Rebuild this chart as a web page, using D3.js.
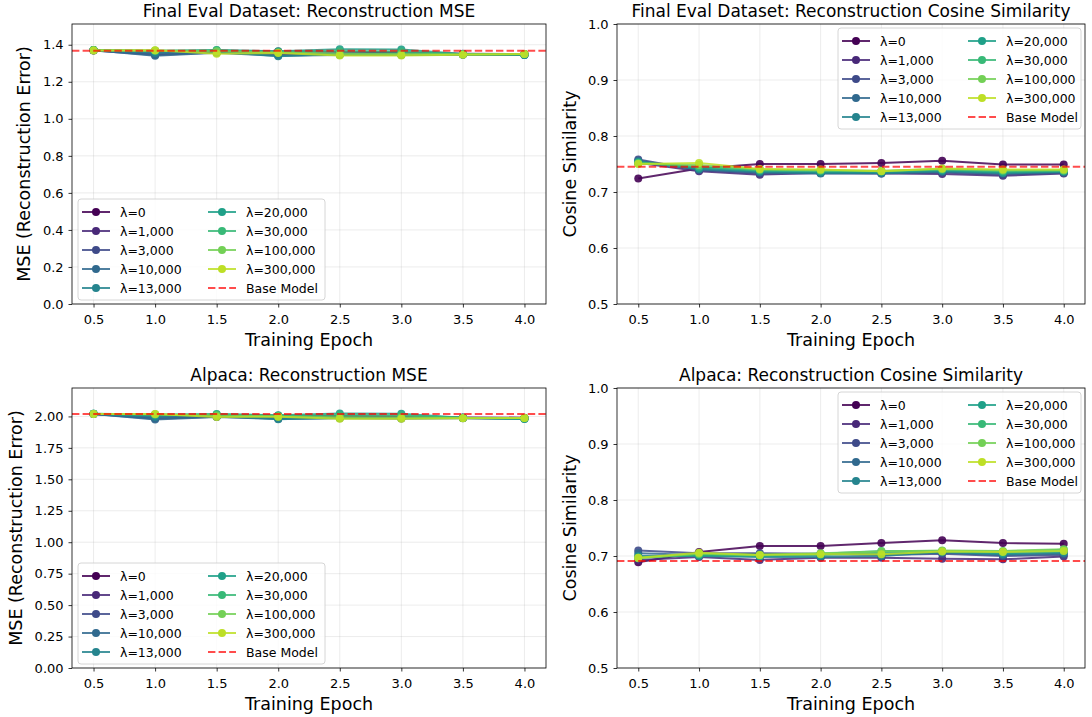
<!DOCTYPE html>
<html><head><meta charset="utf-8">
<script src="https://cdn.jsdelivr.net/npm/d3@7"></script>
<style>body{margin:0;background:#fff}svg{font-family:"DejaVu Sans",sans-serif}</style>
</head><body><svg id="c" width="1092" height="717"></svg>
<script>
const epochs = [0.5,1.0,1.5,2.0,2.5,3.0,3.5,4.0];
const lambdaLabels = ["λ=0","λ=1,000","λ=3,000","λ=10,000","λ=13,000","λ=20,000","λ=30,000","λ=100,000","λ=300,000"];

const finalMse = [
 [1.370,1.362,1.365,1.363,1.362,1.360,1.352,1.350],
 [1.370,1.350,1.360,1.350,1.352,1.350,1.348,1.347],
 [1.369,1.345,1.358,1.345,1.348,1.346,1.347,1.346],
 [1.370,1.340,1.357,1.340,1.345,1.344,1.346,1.345],
 [1.371,1.355,1.362,1.338,1.350,1.348,1.347,1.344],
 [1.372,1.365,1.372,1.365,1.375,1.374,1.350,1.346],
 [1.371,1.368,1.370,1.360,1.365,1.362,1.349,1.348],
 [1.370,1.369,1.365,1.358,1.352,1.350,1.348,1.350],
 [1.369,1.370,1.352,1.355,1.342,1.342,1.346,1.350]];
const finalMseBase = 1.368;

const finalCos = [
 [0.724,0.742,0.750,0.750,0.752,0.756,0.749,0.749],
 [0.752,0.737,0.731,0.734,0.733,0.732,0.729,0.733],
 [0.758,0.739,0.733,0.734,0.734,0.735,0.731,0.734],
 [0.756,0.740,0.735,0.733,0.733,0.736,0.733,0.735],
 [0.754,0.741,0.736,0.734,0.734,0.737,0.734,0.736],
 [0.753,0.743,0.738,0.736,0.736,0.739,0.735,0.737],
 [0.752,0.745,0.739,0.738,0.737,0.740,0.737,0.738],
 [0.751,0.748,0.740,0.739,0.738,0.741,0.739,0.739],
 [0.750,0.752,0.741,0.740,0.737,0.742,0.740,0.740]];
const finalCosBase = 0.745;

const alpacaMse = [
 [2.020,2.005,2.010,2.005,2.003,2.000,1.992,1.990],
 [2.020,1.990,2.000,1.990,1.992,1.990,1.988,1.986],
 [2.019,1.982,1.998,1.985,1.988,1.986,1.987,1.985],
 [2.020,1.975,1.996,1.980,1.985,1.984,1.986,1.983],
 [2.021,1.995,2.005,1.978,1.990,1.988,1.987,1.980],
 [2.022,2.010,2.020,2.010,2.024,2.022,1.990,1.982],
 [2.021,2.015,2.016,2.005,2.010,2.008,1.989,1.985],
 [2.020,2.018,2.008,2.000,1.994,1.992,1.988,1.988],
 [2.019,2.020,1.995,1.998,1.982,1.982,1.985,1.988]];
const alpacaMseBase = 2.019;

const alpacaCos = [
 [0.689,0.707,0.718,0.718,0.723,0.728,0.723,0.722],
 [0.693,0.698,0.693,0.697,0.697,0.695,0.694,0.699],
 [0.710,0.705,0.705,0.704,0.702,0.704,0.700,0.702],
 [0.705,0.702,0.703,0.703,0.703,0.706,0.702,0.704],
 [0.700,0.700,0.698,0.698,0.700,0.707,0.703,0.706],
 [0.698,0.701,0.700,0.702,0.706,0.708,0.705,0.708],
 [0.697,0.703,0.701,0.704,0.709,0.709,0.708,0.711],
 [0.696,0.704,0.702,0.705,0.708,0.710,0.709,0.712],
 [0.697,0.706,0.702,0.703,0.703,0.708,0.707,0.709]];
const alpacaCosBase = 0.691;

const xTicks = [0.5,1.0,1.5,2.0,2.5,3.0,3.5,4.0];
const mseTicksTop = [0.0,0.2,0.4,0.6,0.8,1.0,1.2,1.4];
const mseTicksBot = [0.00,0.25,0.50,0.75,1.00,1.25,1.50,1.75,2.00];
const cosTicks = [0.5,0.6,0.7,0.8,0.9,1.0];

const colors = lambdaLabels.map((d,i)=>d3.interpolateViridis(i*0.9/8));
const svg = d3.select("#c");

function panel(o){
  const g = svg.append("g");
  const x = d3.scaleLinear().domain([0.325,4.175]).range([o.x0,o.x1]);
  const y = d3.scaleLinear().domain(o.ydom).range([o.y1,o.y0]);
  g.append("g").selectAll("line").data(xTicks).join("line")
    .attr("x1",d=>x(d)).attr("x2",d=>x(d)).attr("y1",o.y0).attr("y2",o.y1)
    .attr("stroke","#b0b0b0").attr("stroke-opacity",0.3).attr("stroke-width",0.8);
  g.append("g").selectAll("line").data(o.yticks).join("line")
    .attr("y1",d=>y(d)).attr("y2",d=>y(d)).attr("x1",o.x0).attr("x2",o.x1)
    .attr("stroke","#b0b0b0").attr("stroke-opacity",0.3).attr("stroke-width",0.8);
  const xa = g.append("g").attr("transform",`translate(0,${o.y1})`)
    .call(d3.axisBottom(x).tickValues(xTicks).tickFormat(d3.format(".1f")).tickSize(3.5).tickSizeOuter(0));
  const ya = g.append("g").attr("transform",`translate(${o.x0},0)`)
    .call(d3.axisLeft(y).tickValues(o.yticks).tickFormat(d3.format(o.yfmt)).tickSize(3.5).tickSizeOuter(0));
  [xa,ya].forEach(a=>{a.select(".domain").remove();
    a.selectAll("text").attr("font-size",13).attr("fill","#000").attr("font-family","DejaVu Sans");
    a.selectAll("line").attr("stroke","#000").attr("stroke-width",0.8);});
  xa.selectAll("text").attr("dy","1.05em");
  ya.selectAll("text").attr("dx","-0.15em");
  const clip = "clip"+o.id;
  svg.append("clipPath").attr("id",clip).append("rect").attr("x",o.x0).attr("y",o.y0).attr("width",o.x1-o.x0).attr("height",o.y1-o.y0);
  const pg = g.append("g").attr("clip-path",`url(#${clip})`);
  const line = d3.line().x((d,i)=>x(epochs[i])).y(d=>y(d));
  o.data.forEach((s,k)=>{
    pg.append("path").attr("d",line(s)).attr("fill","none").attr("stroke",colors[k]).attr("stroke-width",2).attr("stroke-opacity",0.85);
    pg.append("g").selectAll("circle").data(s).join("circle")
      .attr("cx",(d,i)=>x(epochs[i])).attr("cy",d=>y(d)).attr("r",4).attr("fill",colors[k]).attr("fill-opacity",0.9);
  });
  pg.append("line").attr("x1",o.x0).attr("x2",o.x1).attr("y1",y(o.base)).attr("y2",y(o.base))
    .attr("stroke","#ff0000").attr("stroke-opacity",0.7).attr("stroke-width",2).attr("stroke-dasharray","7.4,3.2");
  g.append("rect").attr("x",o.x0).attr("y",o.y0).attr("width",o.x1-o.x0).attr("height",o.y1-o.y0)
    .attr("fill","none").attr("stroke","#000").attr("stroke-width",0.8);
  g.append("text").attr("x",(o.x0+o.x1)/2).attr("y",o.y0-7).attr("text-anchor","middle").attr("font-size",17).text(o.title);
  g.append("text").attr("x",(o.x0+o.x1)/2).attr("y",o.y1+42).attr("text-anchor","middle").attr("font-size",17.5).text("Training Epoch");
  g.append("text").attr("transform",`translate(${o.ylx},${(o.y0+o.y1)/2}) rotate(-90)`).attr("text-anchor","middle").attr("font-size",17.5).text(o.ylabel);
  const L = g.append("g").attr("transform",`translate(${o.lx},${o.ly})`);
  L.append("rect").attr("x",0).attr("y",0).attr("width",o.lw).attr("height",101).attr("rx",3)
    .attr("fill","#fff").attr("fill-opacity",0.8).attr("stroke","#ccc").attr("stroke-width",0.8);
  const items = lambdaLabels.map((t,i)=>({t,c:colors[i],base:false})).concat([{t:"Base Model",c:"#ff0000",base:true}]);
  items.forEach((it,i)=>{
    const col = Math.floor(i/5), row = i%5;
    const cx = 4 + col*o.colw, cy = 13 + row*19;
    if(it.base){
      L.append("line").attr("x1",cx).attr("x2",cx+28).attr("y1",cy).attr("y2",cy).attr("stroke","#ff0000").attr("stroke-opacity",0.7).attr("stroke-width",2).attr("stroke-dasharray","7.4,3.2");
    } else {
      L.append("line").attr("x1",cx).attr("x2",cx+28).attr("y1",cy).attr("y2",cy).attr("stroke",it.c).attr("stroke-width",2).attr("stroke-opacity",0.85);
      L.append("circle").attr("cx",cx+14).attr("cy",cy).attr("r",4).attr("fill",it.c);
    }
    L.append("text").attr("x",cx+38).attr("y",cy+4.5).attr("font-size",12.5).text(it.t);
  });
}

panel({id:1,x0:72,x1:546,y0:24,y1:304,ydom:[0,1.512],yticks:mseTicksTop,yfmt:".1f",data:finalMse,base:finalMseBase,
  title:"Final Eval Dataset: Reconstruction MSE",ylabel:"MSE (Reconstruction Error)",ylx:30,lx:78,ly:199,lw:247,colw:126});
panel({id:2,x0:617,x1:1085,y0:24,y1:304,ydom:[0.5,1.0],yticks:cosTicks,yfmt:".1f",data:finalCos,base:finalCosBase,
  title:"Final Eval Dataset: Reconstruction Cosine Similarity",ylabel:"Cosine Similarity",ylx:576,lx:838,ly:28,lw:243,colw:126});
panel({id:3,x0:72,x1:546,y0:388,y1:668,ydom:[0,2.226],yticks:mseTicksBot,yfmt:".2f",data:alpacaMse,base:alpacaMseBase,
  title:"Alpaca: Reconstruction MSE",ylabel:"MSE (Reconstruction Error)",ylx:22,lx:78,ly:563,lw:247,colw:126});
panel({id:4,x0:617,x1:1085,y0:388,y1:668,ydom:[0.5,1.0],yticks:cosTicks,yfmt:".1f",data:alpacaCos,base:alpacaCosBase,
  title:"Alpaca: Reconstruction Cosine Similarity",ylabel:"Cosine Similarity",ylx:576,lx:838,ly:392,lw:243,colw:126});
</script></body></html>
